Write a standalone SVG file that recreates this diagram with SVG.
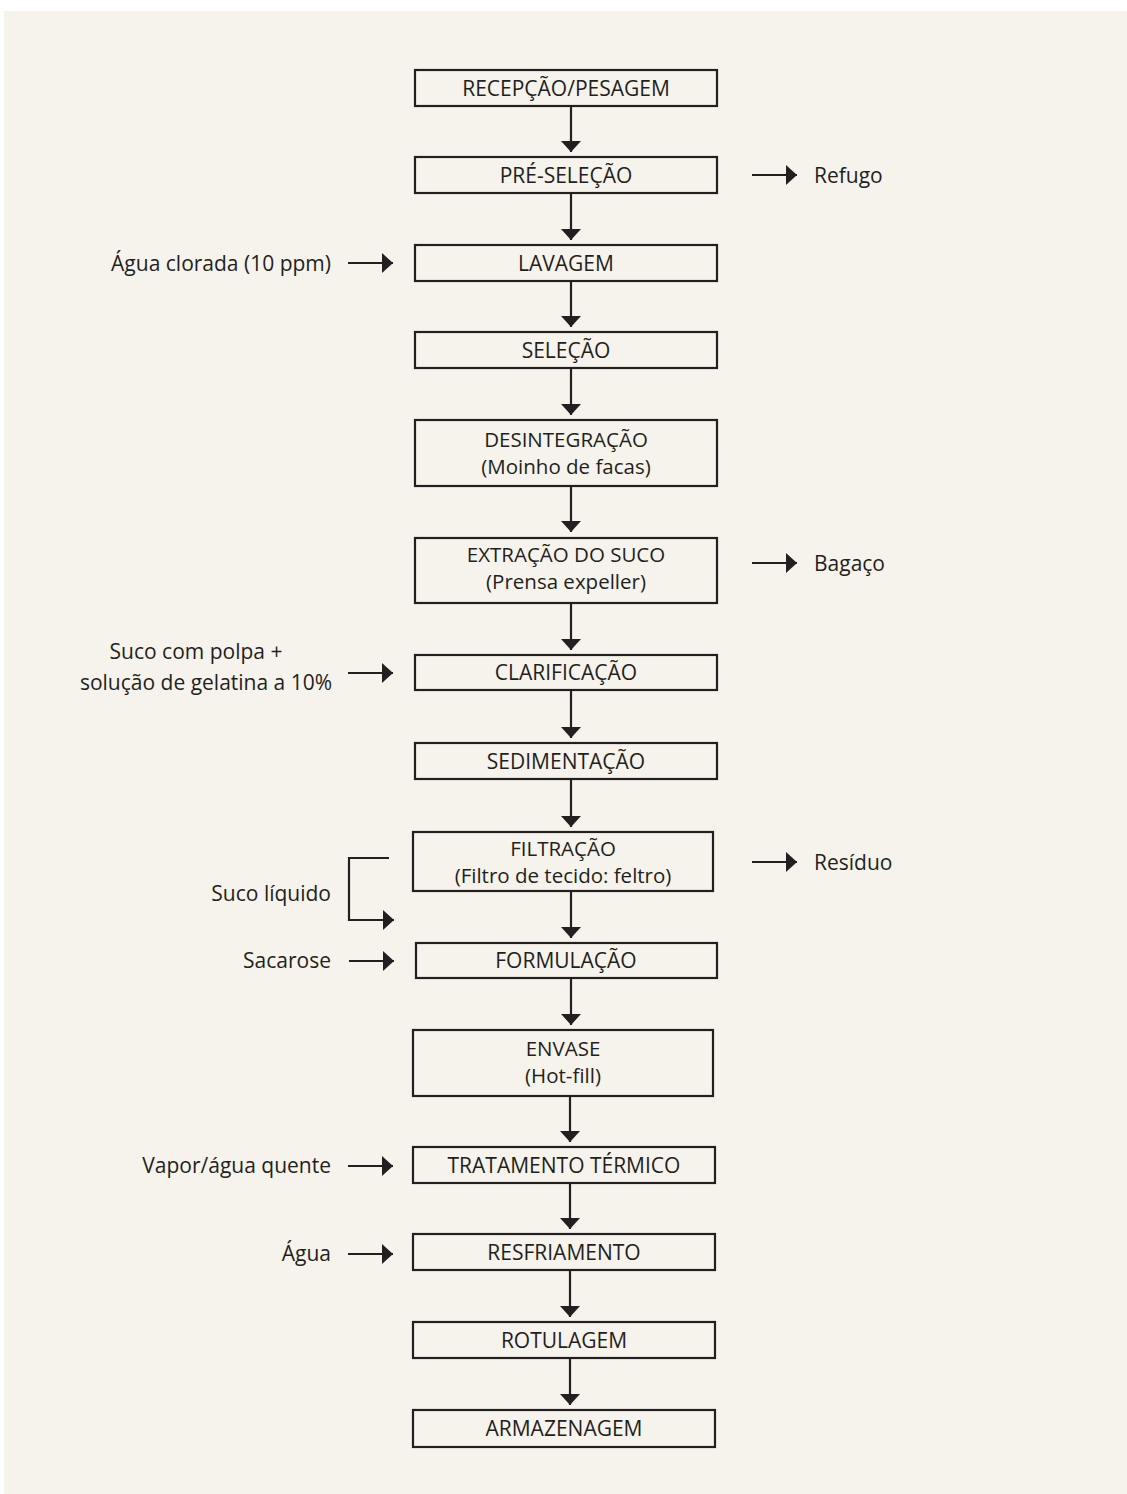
<svg xmlns="http://www.w3.org/2000/svg" width="1127" height="1494" viewBox="0 0 1127 1494">
<defs>
<style>
text{font-family:"Open Sans","Liberation Sans",sans-serif;font-size:21px;fill:#231f20;dominant-baseline:central}
.box rect{fill:none;stroke:#231f20;stroke-width:2.2}
.box text{text-anchor:middle}
.box text.two{font-size:20.5px}
.l{text-anchor:end}
.r{text-anchor:start}
.conn path{fill:none;stroke:#231f20;stroke-width:2.2}
</style>
<marker id="ah" markerWidth="11" markerHeight="20" refX="11" refY="10" orient="auto" markerUnits="userSpaceOnUse">
<path d="M0,0 L11,10 L0,20 Z" fill="#231f20"/>
</marker>
</defs>
<rect x="4" y="11" width="1123" height="1483" fill="#f6f3ec"/>
<g id="n1" class="box"><rect x="415" y="70" width="302" height="36"/><text x="566" y="88">RECEPÇÃO/PESAGEM</text></g>
<g id="n2" class="box"><rect x="415" y="157" width="302" height="36"/><text x="566" y="175">PRÉ-SELEÇÃO</text></g>
<g id="n3" class="box"><rect x="415" y="245" width="302" height="36"/><text x="566" y="263">LAVAGEM</text></g>
<g id="n4" class="box"><rect x="415" y="332" width="302" height="36"/><text x="566" y="350">SELEÇÃO</text></g>
<g id="n5" class="box"><rect x="415" y="420" width="302" height="66"/><text class="two" x="566" y="439">DESINTEGRAÇÃO</text><text class="two" x="566" y="466">(Moinho de facas)</text></g>
<g id="n6" class="box"><rect x="415" y="538" width="302" height="65"/><text class="two" x="566" y="554">EXTRAÇÃO DO SUCO</text><text class="two" x="566" y="581">(Prensa expeller)</text></g>
<g id="n7" class="box"><rect x="415" y="655" width="302" height="35"/><text x="566" y="672">CLARIFICAÇÃO</text></g>
<g id="n8" class="box"><rect x="415" y="743" width="302" height="36"/><text x="566" y="761">SEDIMENTAÇÃO</text></g>
<g id="n9" class="box"><rect x="413" y="832" width="300" height="59"/><text class="two" x="563" y="848">FILTRAÇÃO</text><text class="two" x="563" y="875">(Filtro de tecido: feltro)</text></g>
<g id="n10" class="box"><rect x="416" y="943" width="301" height="35"/><text x="566" y="960">FORMULAÇÃO</text></g>
<g id="n11" class="box"><rect x="413" y="1030" width="300" height="66"/><text class="two" x="563" y="1048">ENVASE</text><text class="two" x="563" y="1075">(Hot-fill)</text></g>
<g id="n12" class="box"><rect x="413" y="1147" width="302" height="36"/><text x="564" y="1165">TRATAMENTO TÉRMICO</text></g>
<g id="n13" class="box"><rect x="413" y="1234" width="302" height="36"/><text x="564" y="1252">RESFRIAMENTO</text></g>
<g id="n14" class="box"><rect x="413" y="1322" width="302" height="36"/><text x="564" y="1340">ROTULAGEM</text></g>
<g id="n15" class="box"><rect x="413" y="1410" width="302" height="37"/><text x="564" y="1428">ARMAZENAGEM</text></g>
<g id="labels">
<text class="r" x="814" y="175">Refugo</text>
<text class="r" x="814" y="563">Bagaço</text>
<text class="r" x="814" y="862">Resíduo</text>
<text class="l" x="331" y="263">Água clorada (10 ppm)</text>
<text x="196" y="651" text-anchor="middle">Suco com polpa +</text>
<text x="206" y="682" text-anchor="middle">solução de gelatina a 10%</text>
<text class="l" x="331" y="893">Suco líquido</text>
<text class="l" x="331" y="960">Sacarose</text>
<text class="l" x="331" y="1165">Vapor/água quente</text>
<text class="l" x="331" y="1253">Água</text>
</g>
<g id="connectors" class="conn">
<path d="M571,106 V152" marker-end="url(#ah)"/>
<path d="M571,193 V240" marker-end="url(#ah)"/>
<path d="M571,281 V327" marker-end="url(#ah)"/>
<path d="M571,368 V415" marker-end="url(#ah)"/>
<path d="M571,486 V532" marker-end="url(#ah)"/>
<path d="M571,603 V650" marker-end="url(#ah)"/>
<path d="M571,690 V738" marker-end="url(#ah)"/>
<path d="M571,779 V827" marker-end="url(#ah)"/>
<path d="M571,891 V938" marker-end="url(#ah)"/>
<path d="M571,978 V1025" marker-end="url(#ah)"/>
<path d="M570,1096 V1142" marker-end="url(#ah)"/>
<path d="M570,1183 V1229" marker-end="url(#ah)"/>
<path d="M570,1270 V1317" marker-end="url(#ah)"/>
<path d="M570,1358 V1405" marker-end="url(#ah)"/>
<path d="M752,175 H797" marker-end="url(#ah)"/>
<path d="M752,563 H797" marker-end="url(#ah)"/>
<path d="M752,862 H797" marker-end="url(#ah)"/>
<path d="M348,263 H393" marker-end="url(#ah)"/>
<path d="M348,673 H393" marker-end="url(#ah)"/>
<path d="M389,858 H349 V920 H394" marker-end="url(#ah)"/>
<path d="M349,961 H394" marker-end="url(#ah)"/>
<path d="M348,1166 H393" marker-end="url(#ah)"/>
<path d="M348,1254 H393" marker-end="url(#ah)"/>
</g>
</svg>
